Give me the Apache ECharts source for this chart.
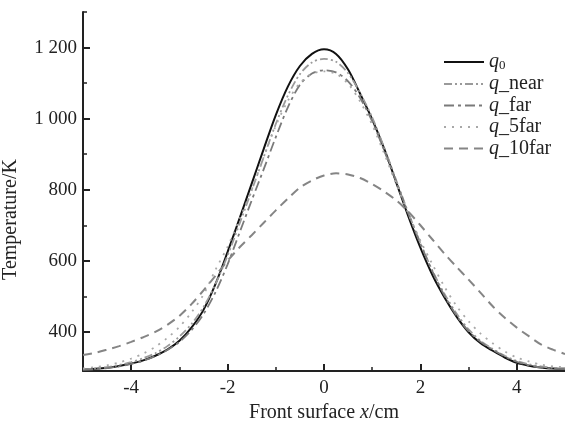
<!DOCTYPE html>
<html>
<head>
<meta charset="utf-8">
<script src="https://cdn.jsdelivr.net/npm/echarts@6/dist/echarts.min.js"></script>
<style>html,body{margin:0;padding:0;background:#fff}#c{width:565px;height:423px}</style>
</head>
<body>
<div id="c"></div>
<script>
var xs = [-5, -4.75, -4.5, -4.25, -4, -3.75, -3.5, -3.25, -3, -2.75, -2.5, -2.25, -2, -1.75, -1.5, -1.25, -1, -0.75, -0.5, -0.25,
          0, 0.25, 0.5, 0.75, 1, 1.25, 1.5, 1.75, 2, 2.25, 2.5, 2.75, 3, 3.25, 3.5, 3.75, 4, 4.25, 4.5, 4.75, 5];
var q0 = [294, 296, 299, 304, 311, 320, 333, 350, 375, 412, 462, 535, 625, 720, 817, 915, 1010, 1090, 1148, 1182,
          1195, 1182, 1138, 1070, 998, 915, 820, 725, 637, 560, 497, 443, 399, 368, 347, 328, 313, 305, 300, 297, 296];
var qNear = [295, 297, 301, 307, 315, 326, 340, 360, 387, 422, 470, 535, 615, 705, 798, 892, 985, 1065, 1125, 1158,
             1168, 1160, 1128, 1072, 1003, 918, 826, 735, 650, 572, 507, 452, 407, 375, 352, 333, 318, 309, 303, 299, 297];
var qFar = [293, 295, 298, 303, 310, 319, 332, 349, 372, 405, 450, 512, 590, 680, 770, 858, 948, 1032, 1095, 1127,
            1136, 1130, 1105, 1058, 992, 910, 822, 733, 648, 570, 502, 446, 402, 372, 350, 331, 316, 306, 300, 297, 296];
var q5far = [297, 301, 306, 314, 325, 339, 358, 383, 414, 455, 505, 575, 640, 718, 800, 892, 980, 1050, 1100, 1126,
             1133, 1126, 1098, 1048, 982, 902, 815, 733, 657, 590, 527, 473, 430, 395, 368, 345, 328, 317, 308, 303, 300];
var q10far = [335, 341, 350, 360, 372, 385, 400, 420, 445, 478, 517, 558, 600, 638, 672, 707, 742, 775, 806, 826,
              840, 846, 843, 833, 816, 795, 770, 738, 700, 660, 620, 583, 547, 510, 472, 440, 412, 388, 365, 350, 338];
var seriesNames = ['q0', 'q_near', 'q_far', 'q_5far', 'q_10far'];
var xLabelValues = [-4, -2, 0, 2, 4];
var xMinorValues = [-3, -1, 1, 3];
var yLabelValues = [400, 600, 800, 1000, 1200];
var yMinorValues = [500, 700, 900, 1100, 1300];

function pairs(ys) { return xs.map(function (x, i) { return [x, ys[i]]; }); }

var FONT = 'Liberation Serif';
var AX = '#222';
var chart = echarts.init(document.getElementById('c'), null, {renderer: 'canvas'});

function mkSeries(name, ys, color, width, type) {
  return {
    name: name, type: 'line', data: pairs(ys), smooth: 0.3, symbol: 'none', showSymbol: false,
    xAxisIndex: 0, yAxisIndex: 0,
    lineStyle: {color: color, width: width, type: type, cap: 'butt'},
    itemStyle: {color: color}
  };
}

function tickAxisX(values, len, width) {
  return {
    type: 'value', min: -5, max: 5, position: 'bottom', offset: 0,
    axisLine: {show: false, onZero: false},
    axisTick: {show: true, inside: true, length: len, customValues: values, lineStyle: {color: AX, width: width}},
    axisLabel: {show: false},
    splitLine: {show: false}
  };
}
function tickAxisY(values, len, width) {
  return {
    type: 'value', min: 290, max: 1300, position: 'left', offset: 0,
    axisLine: {show: false, onZero: false},
    axisTick: {show: true, inside: true, length: len, customValues: values, lineStyle: {color: AX, width: width}},
    axisLabel: {show: false},
    splitLine: {show: false}
  };
}

chart.setOption({
  animation: false,
  backgroundColor: '#fff',
  textStyle: {fontFamily: FONT, color: AX},
  grid: {left: 83, right: 0, top: 12, bottom: 52, outerBoundsMode: 'none', containLabel: false},
  legend: {
    orient: 'vertical', left: 443, top: 52, padding: 0,
    itemWidth: 40, itemHeight: 14, itemGap: 1.5,
    data: seriesNames,
    itemStyle: {opacity: 0},
    textStyle: {
      fontFamily: FONT, fontSize: 20, color: AX,
      rich: {
        i: {fontFamily: FONT, fontStyle: 'italic', fontSize: 20, color: AX},
        t: {fontFamily: FONT, fontSize: 20, color: AX},
        s: {fontFamily: FONT, fontSize: 13, color: AX, padding: [8, 0, 0, 0]}
      }
    },
    formatter: function (n) {
      if (n === 'q0') return '{i|q}{s|0}';
      return '{i|q}{t|' + n.slice(1) + '}';
    }
  },
  xAxis: [{
    type: 'value', min: -5, max: 5, position: 'bottom',
    name: '{t|Front surface }{i|x}{t|/cm}', nameLocation: 'middle', nameGap: 29,
    nameTextStyle: {rich: {
      t: {fontFamily: FONT, fontSize: 20, color: AX},
      i: {fontFamily: FONT, fontSize: 20, fontStyle: 'italic', color: AX}
    }},
    axisLine: {show: true, onZero: false, lineStyle: {color: AX, width: 2}},
    axisTick: {show: false},
    axisLabel: {customValues: xLabelValues, margin: 8, fontFamily: FONT, fontSize: 19, color: AX,
      formatter: function (v) { return String(v); }},
    splitLine: {show: false}
  }, tickAxisX(xLabelValues, 7, 2), tickAxisX(xMinorValues, 4, 1.5)],
  yAxis: [{
    type: 'value', min: 290, max: 1300, position: 'left',
    name: 'Temperature/K', nameLocation: 'middle', nameGap: 62, nameRotate: 90,
    nameTextStyle: {fontFamily: FONT, fontSize: 20, color: AX, padding: [0, 56, 0, 0]},
    axisLine: {show: true, onZero: false, lineStyle: {color: AX, width: 2}},
    axisTick: {show: false},
    axisLabel: {customValues: yLabelValues, margin: 6, fontFamily: FONT, fontSize: 19, color: AX,
      formatter: function (v) { return v >= 1000 ? Math.floor(v / 1000) + ' ' + String(v % 1000).padStart(3, '0') : String(v); }},
    splitLine: {show: false}
  }, tickAxisY(yLabelValues, 7, 2), tickAxisY(yMinorValues, 4, 1.5)],
  series: [
    mkSeries('q0', q0, '#111111', 2, 'solid'),
    mkSeries('q_near', qNear, '#9a9a9a', 1.8, [8, 3, 2, 3, 2, 3]),
    mkSeries('q_far', qFar, '#7a7a7a', 1.8, [10, 4, 3, 4]),
    mkSeries('q_5far', q5far, '#a8a8a8', 1.8, [2, 6]),
    mkSeries('q_10far', q10far, '#858585', 2, [9, 6])
  ]
});
</script>
</body>
</html>
